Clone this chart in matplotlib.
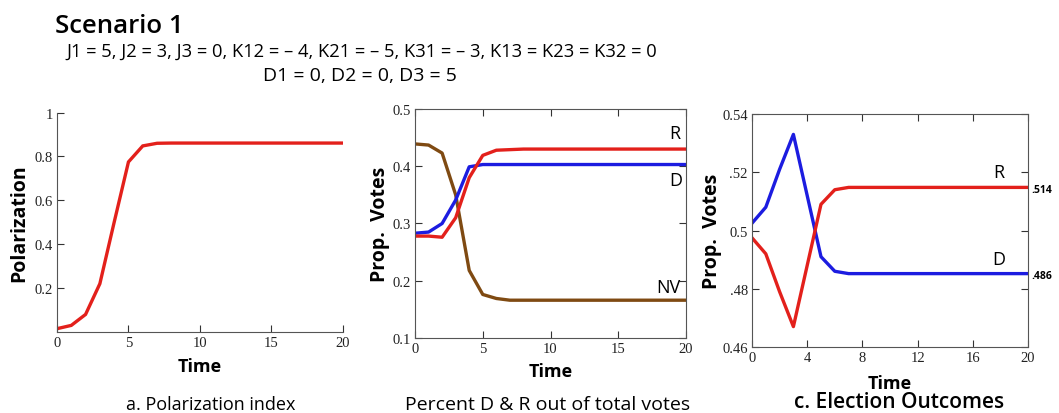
import matplotlib.pyplot as plt

# time steps
t = list(range(0, 21))

# a. polarization index
polarization = [0.015, 0.03, 0.08, 0.22, 0.50, 0.775, 0.848, 0.86, 0.861, 0.861,
                0.861, 0.861, 0.861, 0.861, 0.861, 0.861, 0.861, 0.861, 0.861, 0.861, 0.861]

# b. proportion of votes
votes_r = [0.278, 0.278, 0.276, 0.31, 0.38, 0.419, 0.428, 0.429, 0.43, 0.43,
           0.43, 0.43, 0.43, 0.43, 0.43, 0.43, 0.43, 0.43, 0.43, 0.43, 0.43]
votes_d = [0.283, 0.285, 0.30, 0.341, 0.399, 0.403, 0.403, 0.403, 0.403, 0.403,
           0.403, 0.403, 0.403, 0.403, 0.403, 0.403, 0.403, 0.403, 0.403, 0.403, 0.403]
votes_nv = [0.439, 0.437, 0.423, 0.35, 0.218, 0.176, 0.169, 0.166, 0.166, 0.166,
            0.166, 0.166, 0.166, 0.166, 0.166, 0.166, 0.166, 0.166, 0.166, 0.166, 0.166]

# c. election outcomes
outcome_r = [0.4975, 0.492, 0.479, 0.467, 0.488, 0.509, 0.514, 0.5148, 0.5148, 0.5148,
             0.5148, 0.5148, 0.5148, 0.5148, 0.5148, 0.5148, 0.5148, 0.5148, 0.5148, 0.5148, 0.5148]
outcome_d = [0.5025, 0.508, 0.521, 0.533, 0.512, 0.491, 0.486, 0.4852, 0.4852, 0.4852,
             0.4852, 0.4852, 0.4852, 0.4852, 0.4852, 0.4852, 0.4852, 0.4852, 0.4852, 0.4852, 0.4852]
c_yticks = [0.46, 0.48, 0.50, 0.52, 0.54]
c_yticklabels = ['0.46', '.48', '0.5', '.52', '0.54']

RED = '#e3201b'
BLUE = '#1c1ce0'
BROWN = '#7f4a12'
LW = 2.4

head = 'Open Sans'
tickfont = {'family': 'Liberation Serif', 'size': 10.5}

fig = plt.figure(figsize=(10.59, 4.14), dpi=100)

fig.text(0.052, 0.935, 'Scenario 1', fontsize=18.5, family=head, fontweight='semibold', va='center')
fig.text(0.342, 0.875, 'J1 = 5, J2 = 3, J3 = 0, K12 = \u2013 4, K21 = \u2013 5, K31 = \u2013 3, K13 = K23 = K32 = 0',
         fontsize=13.2, family=head, ha='center', va='center')
fig.text(0.340, 0.817, 'D1 = 0, D2 = 0, D3 = 5', fontsize=14, family=head, ha='center', va='center')


def style(ax, box=True):
    ax.tick_params(direction='in', length=5, width=0.8, colors='#333333',
                   top=box, right=box, pad=3)
    for lab in ax.get_xticklabels() + ax.get_yticklabels():
        lab.set_fontfamily(tickfont['family'])
        lab.set_fontsize(tickfont['size'])
        lab.set_color('#222222')
    for s in ax.spines.values():
        s.set_color('#555555')
        s.set_linewidth(0.8)
    if not box:
        ax.spines['top'].set_visible(False)
        ax.spines['right'].set_visible(False)


# panel a
ax1 = fig.add_axes([0.0538, 0.1957, 0.270, 0.530])
ax1.plot(t, polarization, color=RED, lw=LW, solid_joinstyle='miter')
ax1.set_xlim(0, 20)
ax1.set_ylim(0, 1)
ax1.set_xticks([0, 5, 10, 15, 20])
ax1.set_yticks([0.2, 0.4, 0.6, 0.8, 1.0])
ax1.set_yticklabels(['0.2', '0.4', '0.6', '0.8', '1'])
style(ax1, box=False)
ax1.set_xlabel('Time', fontsize=13, family=head, fontweight='bold', labelpad=6)
ax1.set_ylabel('Polarization', fontsize=14, family=head, fontweight='bold', labelpad=4)
fig.text(0.199, 0.022, 'a. Polarization index', fontsize=13, family=head, ha='center', va='center')

# panel b
ax2 = fig.add_axes([0.3919, 0.1812, 0.2559, 0.5531])
ax2.plot(t, votes_nv, color=BROWN, lw=LW)
ax2.plot(t, votes_d, color=BLUE, lw=LW)
ax2.plot(t, votes_r, color=RED, lw=LW)
ax2.set_xlim(0, 20)
ax2.set_ylim(0.1, 0.5)
ax2.set_xticks([0, 5, 10, 15, 20])
ax2.set_yticks([0.1, 0.2, 0.3, 0.4, 0.5])
style(ax2)
ax2.text(19.6, votes_r[-1] + 0.012, 'R', fontsize=13, family=head, ha='right', va='bottom')
ax2.text(19.7, votes_d[-1] - 0.012, 'D', fontsize=13, family=head, ha='right', va='top')
ax2.text(19.6, votes_nv[-1] + 0.008, 'NV', fontsize=13, family=head, ha='right', va='bottom')
ax2.set_xlabel('Time', fontsize=13, family=head, fontweight='bold', labelpad=5)
ax2.set_ylabel('Prop.  Votes', fontsize=14, family=head, fontweight='bold', labelpad=2)
fig.text(0.5175, 0.022, 'Percent D & R out of total votes', fontsize=14, family=head, ha='center', va='center')

# panel c
ax3 = fig.add_axes([0.7101, 0.1594, 0.2606, 0.5628])
ax3.plot(t, outcome_d, color=BLUE, lw=LW)
ax3.plot(t, outcome_r, color=RED, lw=LW)
ax3.set_xlim(0, 20)
ax3.set_ylim(0.46, 0.54)
ax3.set_xticks([0, 4, 8, 12, 16, 20])
ax3.set_yticks(c_yticks)
ax3.set_yticklabels(c_yticklabels)
style(ax3)
ax3.text(17.9, outcome_r[-1] + 0.0022, 'R', fontsize=13, family=head, ha='center', va='bottom')
ax3.text(17.9, outcome_d[-1] + 0.0018, 'D', fontsize=13, family=head, ha='center', va='bottom')
ax3.text(20.25, outcome_r[-1] - 0.0008, '.514', fontsize=7.5, family=head, fontweight='bold', ha='left', va='center')
ax3.text(20.25, outcome_d[-1] - 0.0008, '.486', fontsize=7.5, family=head, fontweight='bold', ha='left', va='center')
ax3.set_xlabel('Time', fontsize=13, family=head, fontweight='bold', labelpad=7)
ax3.set_ylabel('Prop.  Votes', fontsize=14, family=head, fontweight='bold', labelpad=0)
fig.text(0.849, 0.028, 'c. Election Outcomes', fontsize=15, family=head, fontweight='semibold', ha='center', va='center')

fig.savefig('out.png', dpi=100)
